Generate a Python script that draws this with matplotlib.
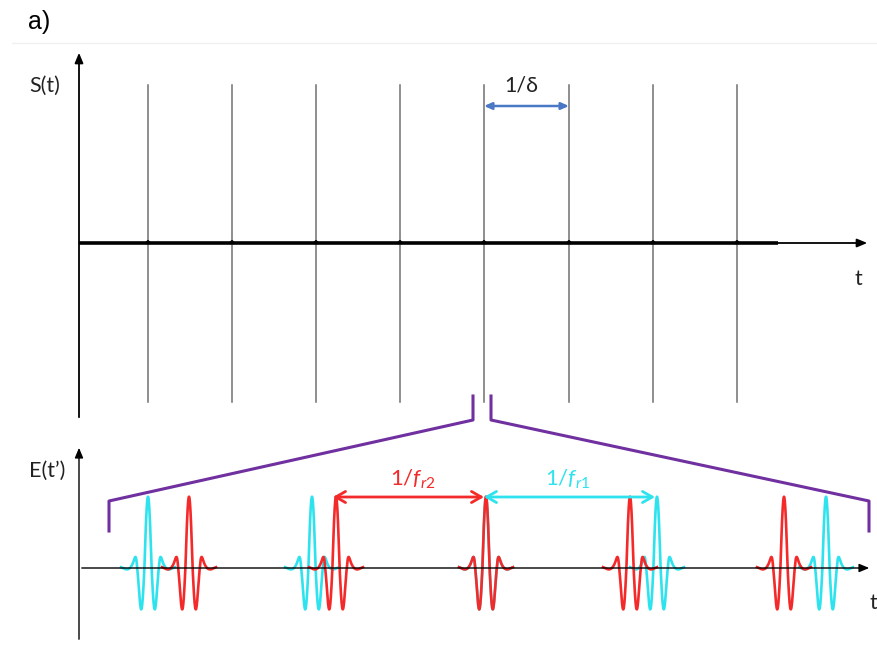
import numpy as np
import matplotlib.pyplot as plt

plt.rcParams['mathtext.fontset'] = 'custom'
plt.rcParams['mathtext.it'] = 'Lato:italic'
plt.rcParams['mathtext.rm'] = 'Lato'

# comb lines of S(t) (pixel x positions)
comb_x = [148, 232, 316, 400, 484, 569, 653, 737]
# pulse peak positions in E(t')
red_x = [189, 336, 486, 630, 784]
cyan_x = [148, 312, 486, 657, 826]
pulse_up = 66      # height of main lobe above baseline
pulse_down = 39    # depth of the side troughs

RED = '#f42a2a'
CYAN = '#2fe3ee'
PURPLE = '#7030a0'
BLUE = '#4a78c4'

fig = plt.figure(figsize=(8.78, 6.47), dpi=100)
ax = fig.add_axes([0, 0, 1, 1])
ax.set_xlim(0, 878)
ax.set_ylim(647, 0)
ax.axis('off')

ax.text(28, 22, 'a)', fontsize=18, family='Liberation Sans', va='center', ha='left')
ax.plot([12, 878], [43, 43], color='#f0f0f0', lw=1)

# ---- top panel S(t)
y0 = 243
ax.annotate('', xy=(79, 50), xytext=(79, 420),
            arrowprops=dict(arrowstyle='-|>,head_length=0.6,head_width=0.25', color='black', lw=1.3))
ax.annotate('', xy=(870, y0), xytext=(79, y0),
            arrowprops=dict(arrowstyle='-|>,head_length=0.6,head_width=0.25', color='black', lw=1.3))
for x in comb_x:
    ax.plot([x, x], [85, 402], color='#707070', lw=1.1)
ax.plot([79, 778], [y0, y0], color='black', lw=2.6, solid_capstyle='butt')
for x in comb_x:
    ax.plot([x - 2, x, x + 2], [y0, y0 - 2, y0], color='black', lw=1.5)
ax.text(45, 86, 'S(t)', fontsize=15.5, family='Lato', va='center', ha='center', color='#222222')
ax.text(858, 279, 't', fontsize=15.5, family='Lato', va='center', ha='center', color='#222222')
ax.annotate('', xy=(484, 106), xytext=(569, 106),
            arrowprops=dict(arrowstyle='<|-|>,head_length=0.45,head_width=0.2', color=BLUE, lw=1.8,
                            shrinkA=0, shrinkB=0))
ax.text(521, 85, '1/δ', fontsize=15.5, family='Lato', va='center', ha='center', color='#222222')

# ---- purple zoom bracket
ax.plot([473, 473, 109, 109], [396, 420, 501, 531], color=PURPLE, lw=2.2)
ax.plot([491, 491, 869, 869], [396, 420, 501, 531], color=PURPLE, lw=2.2)

# ---- bottom panel E(t')
yb = 568
ax.annotate('', xy=(79, 445), xytext=(79, 642),
            arrowprops=dict(arrowstyle='-|>,head_length=0.6,head_width=0.25', color='black', lw=1.0))
ax.annotate('', xy=(872, yb), xytext=(79, yb),
            arrowprops=dict(arrowstyle='-|>,head_length=0.6,head_width=0.25', color='black', lw=1.0))
ax.text(47, 471, 'E(t’)', fontsize=15.5, family='Lato', va='center', ha='center', color='#222222')
ax.text(873, 603, 't', fontsize=15.5, family='Lato', va='center', ha='center', color='#222222')


def pulse(xc, color):
    t = np.linspace(-27, 27, 400)
    env = np.exp(-(t / 11.0) ** 4) + 0.08 * np.exp(-(t / 22) ** 2)
    s = env * np.cos(np.pi * t / 7.2)
    s = np.where(s > 0, s * pulse_up, s * pulse_down * 1.15)
    ax.plot(xc + t, yb - s, color=color, lw=1.9)


for x in cyan_x:
    pulse(x, CYAN)
for x in red_x:
    pulse(x, RED)

ax.annotate('', xy=(333, 497), xytext=(484, 497),
            arrowprops=dict(arrowstyle='<->,head_length=0.7,head_width=0.4', color=RED, lw=2.0,
                            shrinkA=0, shrinkB=0))
ax.annotate('', xy=(484, 497), xytext=(655, 497),
            arrowprops=dict(arrowstyle='<->,head_length=0.7,head_width=0.4', color=CYAN, lw=2.0,
                            shrinkA=0, shrinkB=0))
ax.text(413, 479, r'$\mathit{1/f_{r2}}$', fontsize=16, color=RED, va='center', ha='center')
ax.text(568, 479, r'$\mathit{1/f_{r1}}$', fontsize=16, color=CYAN, va='center', ha='center')

fig.savefig('out.png', dpi=100)
